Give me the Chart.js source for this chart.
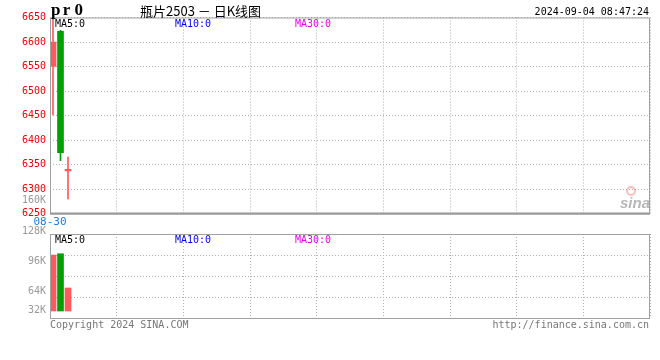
<!DOCTYPE html>
<html>
<head>
<meta charset="utf-8">
<script src="https://cdn.jsdelivr.net/npm/chart.js@4.4.1/dist/chart.umd.min.js"></script>
<style>
  body { margin: 0; background: #fff; width: 660px; height: 360px; overflow: hidden; position: relative; }
  #kline { position: absolute; left: 0; top: 0; }
  #vol { position: absolute; left: 0; top: 190px; }
</style>
</head>
<body>
<canvas id="kline" width="660" height="230"></canvas>
<canvas id="vol" width="660" height="170"></canvas>
<script>
// daily bars
const dates = ['08-30', '09-02', '09-03'];
const opens = [6550, 6622, 6337];
const closes = [6600, 6374, 6340];
const highs = [6650, 6624, 6365];
const lows = [6451, 6358, 6280];
const volumes = [102500, 103900, 67600];
const volBase = 43200;

const priceMin = 6250, priceMax = 6650, priceStep = 50;
const volTicks = [160000, 128000, 96000, 64000, 32000];
const maLabels = ['MA5:0', 'MA10:0', 'MA30:0'];
const maColors = ['#000', '#0000ee', '#ee00ee'];

const UP = '#ff5a5a', DOWN = '#00a000';
const mono = '"DejaVu Sans Mono", monospace';
const colors = dates.map((d, i) => closes[i] >= opens[i] ? UP : DOWN);
const xs = dates.map((d, i) => i);

// shared helpers
function frame(ctx, a) {
  ctx.save();
  ctx.strokeStyle = '#a0a0a0';
  ctx.lineWidth = 1;
  ctx.strokeRect(a.left + 0.5, a.top + 0.5, a.right - a.left - 1, a.bottom - a.top);
  ctx.restore();
}
function maText(ctx, y) {
  ctx.font = '10px ' + mono;
  ctx.textBaseline = 'middle';
  ctx.textAlign = 'left';
  maLabels.forEach((t, i) => {
    ctx.fillStyle = maColors[i];
    ctx.fillText(t, 55 + i * 120, y);
  });
}

const klinePlugin = {
  id: 'klineDeco',
  afterDraw(chart) {
    const ctx = chart.ctx, a = chart.chartArea;
    ctx.save();
    frame(ctx, a);
    ctx.fillStyle = '#999';
    ctx.fillRect(a.left, a.bottom - 1, a.right - a.left, 2);

    // title
    ctx.fillStyle = '#000';
    ctx.textBaseline = 'middle';
    ctx.font = 'bold 17px "Liberation Serif", serif';
    'pr0'.split('').forEach((c, i) => ctx.fillText(c, 51 + i * 11.7, 11));
    ctx.font = '13px "Noto Sans CJK SC", sans-serif';
    ctx.fillText('瓶片2503 － 日K线图', 140, 11);
    ctx.font = '10px ' + mono;
    ctx.textAlign = 'right';
    ctx.fillText('2024-09-04 08:47:24', 649, 12);

    maText(ctx, a.top + 7);

    // sina watermark
    ctx.globalAlpha = 0.45;
    ctx.strokeStyle = '#f07070';
    ctx.lineWidth = 2;
    ctx.beginPath();
    ctx.arc(631, 191, 4, 0, Math.PI * 2);
    ctx.stroke();
    ctx.globalAlpha = 0.7;
    ctx.fillStyle = '#999';
    ctx.font = 'italic bold 15px "Liberation Sans", sans-serif';
    ctx.textAlign = 'right';
    ctx.fillText('sina', 650, 204);
    ctx.restore();
  }
};

new Chart(document.getElementById('kline'), {
  type: 'bar',
  data: {
    datasets: [
      {
        data: xs.map(i => ({ x: i, y: [lows[i], highs[i]] })),
        backgroundColor: colors,
        barThickness: 1,
        grouped: false,
        order: 2
      },
      {
        data: xs.map(i => ({ x: i, y: [opens[i], closes[i]] })),
        backgroundColor: colors,
        barThickness: 6,
        grouped: false,
        order: 1
      }
    ]
  },
  options: {
    responsive: false,
    animation: false,
    devicePixelRatio: 1,
    layout: { padding: { top: 17.5, right: 10, left: 0, bottom: 0 } },
    plugins: { legend: { display: false }, tooltip: { enabled: false } },
    scales: {
      x: { type: 'linear', min: -0.4, max: 79.6, offset: false, display: false },
      xg: {
        type: 'linear', position: 'bottom', min: 0, max: 9, offset: false,
        ticks: {
          stepSize: 1, autoSkip: false, maxRotation: 0, padding: 2,
          color: '#1a7fd9', font: { family: mono, size: 11 },
          callback: v => v === 0 ? dates[0] : ''
        },
        grid: { color: '#b0b0b0', drawTicks: false, offset: false },
        border: { display: false, dash: [1, 2] },
        afterFit: s => { s.height = 16.5; }
      },
      y: {
        min: priceMin, max: priceMax,
        ticks: {
          stepSize: priceStep, color: '#ee0000', padding: 4,
          font: { family: mono, size: 10 },
          callback: v => String(v)
        },
        grid: { color: '#b0b0b0', drawTicks: false },
        border: { display: false, dash: [1, 2] },
        afterFit: s => { s.width = 50; }
      }
    }
  },
  plugins: [klinePlugin]
});

const volPlugin = {
  id: 'volDeco',
  afterDraw(chart) {
    const ctx = chart.ctx, a = chart.chartArea, y = chart.scales.y;
    ctx.save();
    frame(ctx, a);
    maText(ctx, a.top + 6);

    ctx.font = '10px ' + mono;
    ctx.fillStyle = '#999';
    ctx.textAlign = 'right';
    ctx.textBaseline = 'middle';
    volTicks.forEach(v => {
      const py = Math.min(y.getPixelForValue(v), a.bottom - 8);
      ctx.fillText(Math.round(v / 1000) + 'K', 46, py);
    });

    ctx.fillStyle = '#777';
    ctx.textAlign = 'left';
    ctx.fillText('Copyright 2024 SINA.COM', 50, a.bottom + 7);
    ctx.textAlign = 'right';
    ctx.fillText('http://finance.sina.com.cn', 649, a.bottom + 7);
    ctx.restore();
  }
};

new Chart(document.getElementById('vol'), {
  type: 'bar',
  data: {
    datasets: [{
      data: xs.map(i => ({ x: i, y: volumes[i] })),
      backgroundColor: colors,
      barThickness: 6,
      base: volBase
    }]
  },
  options: {
    responsive: false,
    animation: false,
    devicePixelRatio: 1,
    layout: { padding: { top: 44, right: 10, left: 0, bottom: 42 } },
    plugins: { legend: { display: false }, tooltip: { enabled: false } },
    scales: {
      x: { type: 'linear', min: -0.4, max: 79.6, offset: false, display: false },
      xg: {
        type: 'linear', position: 'bottom', min: 0, max: 9, offset: false,
        ticks: { display: false, stepSize: 1 },
        grid: { color: '#b0b0b0', drawTicks: false, offset: false },
        border: { display: false, dash: [1, 2] },
        afterFit: s => { s.height = 0; }
      },
      y: { min: 35800, max: 124800, display: false },
      yg: {
        position: 'left', min: 0, max: 4,
        ticks: { display: false, stepSize: 1 },
        grid: { color: '#b0b0b0', drawTicks: false },
        border: { display: false, dash: [1, 2] },
        afterFit: s => { s.width = 50; }
      }
    }
  },
  plugins: [volPlugin]
});
</script>
</body>
</html>
